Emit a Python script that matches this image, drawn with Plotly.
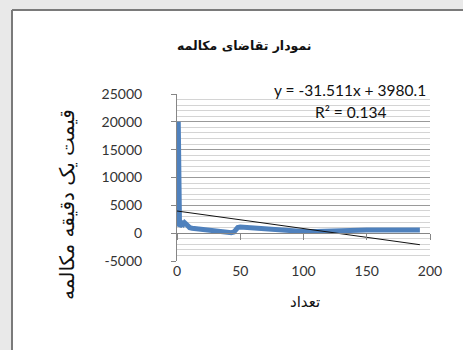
import plotly.graph_objects as go

# ---- data ----
count_x = [1, 2, 3, 4, 5, 6, 7, 8, 9, 10, 12, 15, 20, 25, 30, 35, 40, 43, 45, 47, 48, 50,
           55, 60, 70, 80, 90, 100, 110, 120, 130, 140, 150, 160, 170, 180, 190, 192]
price_y = [20000, 1200, 1500, 1800, 1600, 1900, 1700, 1500, 1200, 1000, 900, 800, 700, 600,
           400, 300, 200, 100, 200, 700, 1000, 1100, 1000, 900, 700, 500, 400, 300, 300, 400,
           500, 550, 550, 550, 550, 550, 550, 550]
trend_slope = -31.511
trend_intercept = 3980.1
trend_x = [0, 192]
trend_y = [trend_slope * v + trend_intercept for v in trend_x]

title_text = "نمودار تقاضای مکالمه"
x_title = "تعداد"
y_title = "قیمت یک دقیقه مکالمه"
eq_text = "y = -31.511x + 3980.1"
r2_text = "R² = 0.134"
x_ticks = [0, 50, 100, 150, 200]
y_ticks = [-5000, 0, 5000, 10000, 15000, 20000, 25000]
y_tick_labels = ["-5000", "0", "5000", "10000", "15000", "20000", "25000"]

W, H = 463, 350
ML, MR, MT, MB = 177, 33, 94, 89
PW, PH = W - ML - MR, H - MT - MB


def px(x):
    return (x - ML) / PW


def py(y):
    return (H - MB - y) / PH


fig = go.Figure()
fig.add_trace(go.Scatter(x=count_x, y=price_y, mode="lines",
                         line=dict(color="#4F81BD", width=5), showlegend=False,
                         hoverinfo="skip"))
fig.add_trace(go.Scatter(x=trend_x, y=trend_y, mode="lines", xaxis="x2",
                         line=dict(color="#111111", width=1), showlegend=False,
                         hoverinfo="skip"))

tick_font = dict(family="Lato, sans-serif", size=14, color="#333333")
arab_font = "DejaVu Sans, sans-serif"


def ann(text, x, y, font, angle=0):
    return dict(text=text, x=px(x), y=py(y), xref="paper", yref="paper",
                xanchor="center", yanchor="middle", textangle=angle,
                showarrow=False, font=font)


fig.update_layout(
    width=W, height=H,
    margin=dict(l=ML, r=MR, t=MT, b=MB),
    paper_bgcolor="white", plot_bgcolor="white",
    xaxis=dict(range=[0, 200], tickvals=x_ticks, ticks="", showgrid=False,
               zeroline=False, showline=False, tickfont=tick_font,
               fixedrange=True),
    xaxis2=dict(range=[0, 200], tickvals=x_ticks, overlaying="x", anchor="free",
                position=1/6, side="bottom", ticks="outside", ticklen=6,
                tickcolor="#868686", showticklabels=False, showline=True,
                linecolor="#868686", linewidth=1, showgrid=False, zeroline=False),
    yaxis=dict(range=[-5000, 25000], tickvals=y_ticks, ticktext=y_tick_labels,
               ticks="outside", ticklen=5,
               tickcolor="#868686", showline=True, linecolor="#868686",
               gridcolor="#9a9a9a", gridwidth=1, zeroline=False,
               tickfont=tick_font, ticklabelstandoff=26,
               minor=dict(dtick=1000, tick0=0, showgrid=True, gridcolor="#d4d4d4",
                          gridwidth=1, ticks="")),
    annotations=[
        ann(title_text, 244, 45, dict(family=arab_font, size=12.5, color="#111111",
                                      weight="bold")),
        ann(x_title, 305, 302, dict(family=arab_font, size=15, color="#111111")),
        ann(y_title, 67, 205, dict(family=arab_font, size=20, color="#111111"), -90),
        ann(eq_text, 350, 90, dict(family="Lato, sans-serif", size=15.5, color="#111111")),
        ann(r2_text, 350, 112, dict(family="Lato, sans-serif", size=15.5, color="#111111")),
    ],
    shapes=[
        dict(type="rect", xref="paper", yref="paper", x0=px(0), x1=px(12), y0=py(H), y1=py(0),
             fillcolor="#e9e9e9", line=dict(width=0), layer="below"),
        dict(type="rect", xref="paper", yref="paper", x0=px(0), x1=px(W), y0=py(10), y1=py(0),
             fillcolor="#e9e9e9", line=dict(width=0), layer="below"),
        dict(type="line", xref="paper", yref="paper", x0=px(12), x1=px(12), y0=py(H), y1=py(10),
             line=dict(color="#7a7a7a", width=2)),
        dict(type="line", xref="paper", yref="paper", x0=px(12), x1=px(W), y0=py(10), y1=py(10),
             line=dict(color="#7a7a7a", width=2)),
    ],
)

fig.write_html("out.html", config={"displayModeBar": False},
               post_script="document.body.style.margin='0';document.body.style.overflow='hidden';")
